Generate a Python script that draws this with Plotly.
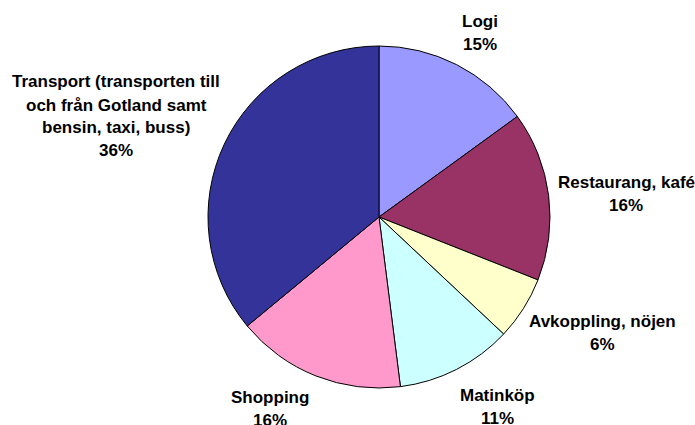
import plotly.graph_objects as go

categories = ["Logi", "Restaurang, kafé", "Avkoppling, nöjen", "Matinköp", "Shopping",
              "Transport (transporten till och från Gotland samt bensin, taxi, buss)"]
values = [15, 16, 6, 11, 16, 36]
label_lines = [
    ["Logi", "15%"],
    ["Restaurang, kafé", "16%"],
    ["Avkoppling, nöjen", "6%"],
    ["Matinköp", "11%"],
    ["Shopping", "16%"],
    ["Transport (transporten till", "och från Gotland samt", "bensin, taxi, buss)", "36%"],
]
colors = ["#9999FF", "#993366", "#FFFFCC", "#CCFFFF", "#FF99CC", "#333399"]

W, H = 695, 425

# label anchor positions (pixels, top-left origin) for the first line of each label
label_pos = [(480, 22), (626, 182), (602, 321), (497, 395), (270, 397), (116, 82)]
line_gap = 23
cx, cy, r = 379, 217, 171

fig = go.Figure(go.Pie(
    labels=categories, values=values, sort=False, direction="clockwise", rotation=0,
    marker=dict(colors=colors, line=dict(color="#000000", width=1)),
    textinfo="none", hoverinfo="label+percent", showlegend=False,
    domain=dict(x=[(cx - r) / W, (cx + r) / W], y=[1 - (cy + r) / H, 1 - (cy - r) / H]),
))

annotations = []
for lines, (px, py) in zip(label_lines, label_pos):
    for i, t in enumerate(lines):
        annotations.append(dict(
            x=px / W, y=1 - (py + i * line_gap) / H, xref="paper", yref="paper",
            text="<b>" + t + "</b>", showarrow=False, xanchor="center", yanchor="middle",
            font=dict(family="Liberation Sans, Arial", size=17, color="#000000"),
        ))

fig.update_layout(
    width=W, height=H, margin=dict(l=0, r=0, t=0, b=0),
    paper_bgcolor="#FFFFFF", plot_bgcolor="#FFFFFF",
    annotations=annotations,
)
fig.write_html(
    "out.html",
    config={"displayModeBar": False},
    post_script="document.body.style.margin='0px';document.body.style.overflow='hidden';",
)
